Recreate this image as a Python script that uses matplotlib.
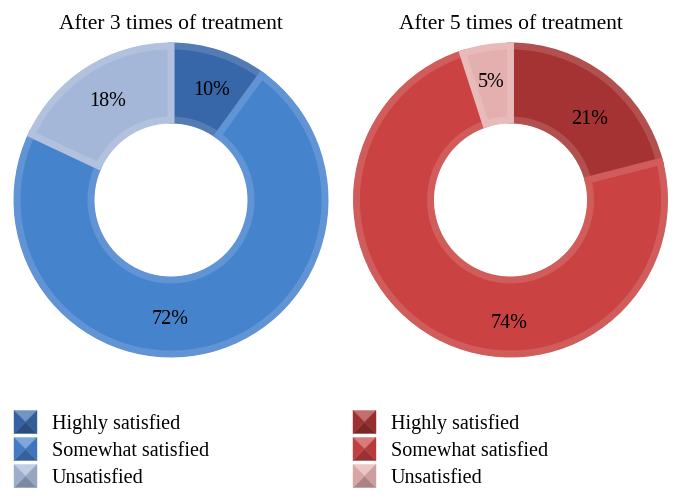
import matplotlib
matplotlib.use('Agg')
import matplotlib.pyplot as plt
import matplotlib.colors as mcolors
from matplotlib.patches import Polygon

plt.rcParams['font.family'] = ['Liberation Serif', 'DejaVu Serif']

# --- Data ---
titles = ['After 3 times of treatment', 'After 5 times of treatment']
categories = ['Highly satisfied', 'Somewhat satisfied', 'Unsatisfied']
after3 = [10, 72, 18]
after5 = [21, 74, 5]

blues = ['#3767A8', '#4683CD', '#A5B7D8']
reds = ['#A63333', '#CA4242', '#E4AFAF']


def shade(c, f):
    r, g, b = mcolors.to_rgb(c)
    if f > 0:
        return (r + (1 - r) * f, g + (1 - g) * f, b + (1 - b) * f)
    return (r * (1 + f), g * (1 + f), b * (1 + f))


# --- Layout (pixel units, y up) ---
W, H = 682, 503
centers = [(171, H - 200), (510.5, H - 200)]
radius = 157
ring = 80
bev = 3
label_pos = [
    [(212, 90), (170, 320), (108, 101)],
    [(590, 119), (509, 324), (491, 82)],
]
legend_x = [14, 353]
legend_tx = [52, 391]
legend_y = [422, 449, 476]
sq = 23

fig = plt.figure(figsize=(W / 100, H / 100), dpi=100)
ax = fig.add_axes([0, 0, 1, 1])

for k, (vals, cols) in enumerate([(after3, blues), (after5, reds)]):
    bevel_cols = [shade(c, 0.14) for c in cols]
    # outer ring in bevel tone
    ax.pie(vals, colors=bevel_cols, center=centers[k], radius=radius,
           startangle=90, counterclock=False,
           wedgeprops=dict(width=ring, linewidth=0))
    # inset faces
    wedges, _ = ax.pie(vals, colors=cols, center=centers[k],
                       radius=radius - bev, startangle=90, counterclock=False,
                       wedgeprops=dict(width=ring - 2 * bev, linewidth=5))
    for w, bc in zip(wedges, bevel_cols):
        w.set_edgecolor(bc)
    for (px, py), v in zip(label_pos[k], vals):
        ax.text(px, H - py, f'{v}%', ha='center', va='center', fontsize=14.5)
    ax.text(centers[k][0], H - 29, titles[k], ha='center', va='baseline',
            fontsize=15.5)

    # legend with bevelled squares
    for i, (cat, c) in enumerate(zip(categories, cols)):
        x0 = legend_x[k]
        yc = H - legend_y[i]
        x1, y0, y1 = x0 + sq, yc - sq / 2, yc + sq / 2
        xm = x0 + sq / 2
        tris = [
            ([(x0, y1), (x1, y1), (xm, yc)], shade(c, 0.3)),
            ([(x0, y0), (x1, y0), (xm, yc)], shade(c, -0.25)),
            ([(x0, y0), (x0, y1), (xm, yc)], shade(c, -0.05)),
            ([(x1, y0), (x1, y1), (xm, yc)], shade(c, -0.1)),
        ]
        for pts, fc in tris:
            ax.add_patch(Polygon(pts, closed=True, facecolor=fc, edgecolor=fc,
                                 linewidth=0.3))
        ax.text(legend_tx[k], yc, cat, ha='left', va='center_baseline',
                fontsize=14.5)

ax.set_xlim(0, W)
ax.set_ylim(0, H)
ax.set_aspect('equal')
ax.axis('off')

fig.savefig('out.png', dpi=100)
